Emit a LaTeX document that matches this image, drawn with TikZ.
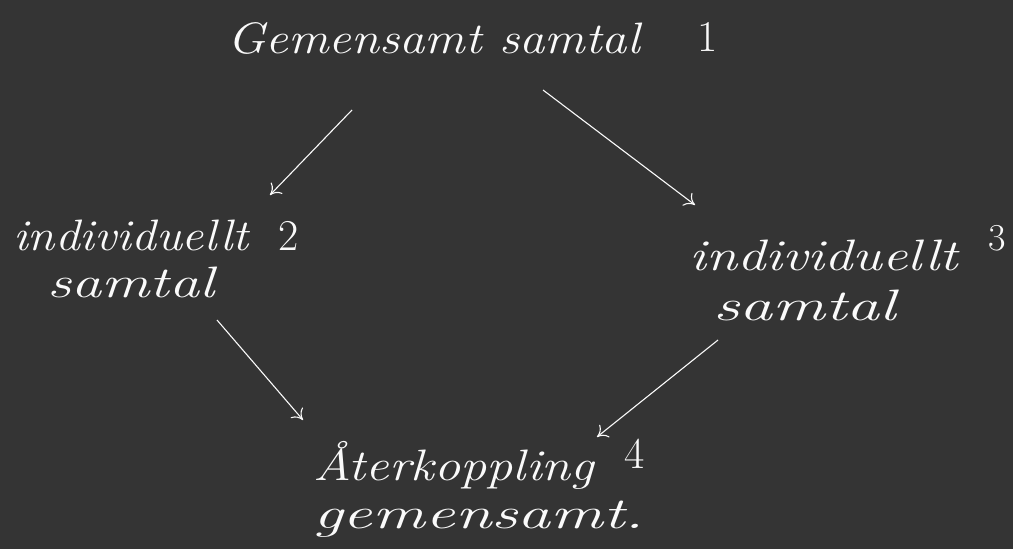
\documentclass[tikz,border=0pt]{standalone}
\usepackage{fontspec}
\usepackage{graphicx}
\usepackage{xcolor}
\usetikzlibrary{arrows.meta}
\definecolor{board}{RGB}{52,52,52}
\definecolor{chalk}{RGB}{250,250,250}
% wide handwritten line, raised upright digit
\newcommand{\chalkline}[2]{\scalebox{#1}[1]{#2}}
\newcommand{\chalknum}[3]{\smash{\raisebox{#1}{\fontsize{#2}{#2}\selectfont\upshape #3}}}
\tikzset{every picture/.style={line width=0.75pt}}
\tikzset{
  chalktext/.style={text=chalk,inner sep=0.75pt,align=left,anchor=north west,
    font=\fontsize{44}{48}\selectfont\itshape\addfontfeatures{LetterSpace=12}},
  chalkarrow/.style={draw=chalk,line width=1.1pt,-{To[length=10pt,width=16pt]}},
}

\begin{document}
\begin{tikzpicture}[x=1pt,y=1pt,yscale=-1,xscale=1]
%background board
\fill [board] (0,0) rectangle (1013,549);
\useasboundingbox (0,0) rectangle (1013,549);

% Text Node
\node [chalktext] (gem1) at (226,21) {\chalkline{1.15}{Gemensamt samtal}\hspace{58pt}\chalknum{2pt}{44}{1}};
% Text Node
\node [chalktext] (ind2) at (12,219) {\chalkline{1.12}{individuellt}\hspace{30pt}\chalknum{0pt}{44}{2}\\[-1pt]\hspace{34pt}\chalkline{1.37}{samtal}};
% Text Node
\node [chalktext] (ind3) at (688,239) {\chalkline{1.28}{individuellt}\hspace{30pt}\chalknum{20pt}{38}{3}\\[2pt]\hspace{24pt}\chalkline{1.5}{samtal}};
% Text Node
\node [chalktext] (ater4) at (312,440) {\chalkline{1.19}{Återkoppling}\hspace{30pt}\chalknum{12pt}{44}{4}\\\chalkline{1.5}{gemensamt.}};

%Straight Lines
\coordinate (a1) at (352,110);
\coordinate (b1) at (270,195);
\draw [chalkarrow] (a1) -- (b1);
%Straight Lines
\coordinate (a2) at (543,90);
\coordinate (b2) at (695,205);
\draw [chalkarrow] (a2) -- (b2);
%Straight Lines
\coordinate (a3) at (217,320);
\coordinate (b3) at (303,420);
\draw [chalkarrow] (a3) -- (b3);
%Straight Lines
\coordinate (a4) at (718,340);
\coordinate (b4) at (597,437);
\draw [chalkarrow] (a4) -- (b4);

\end{tikzpicture}
\end{document}
